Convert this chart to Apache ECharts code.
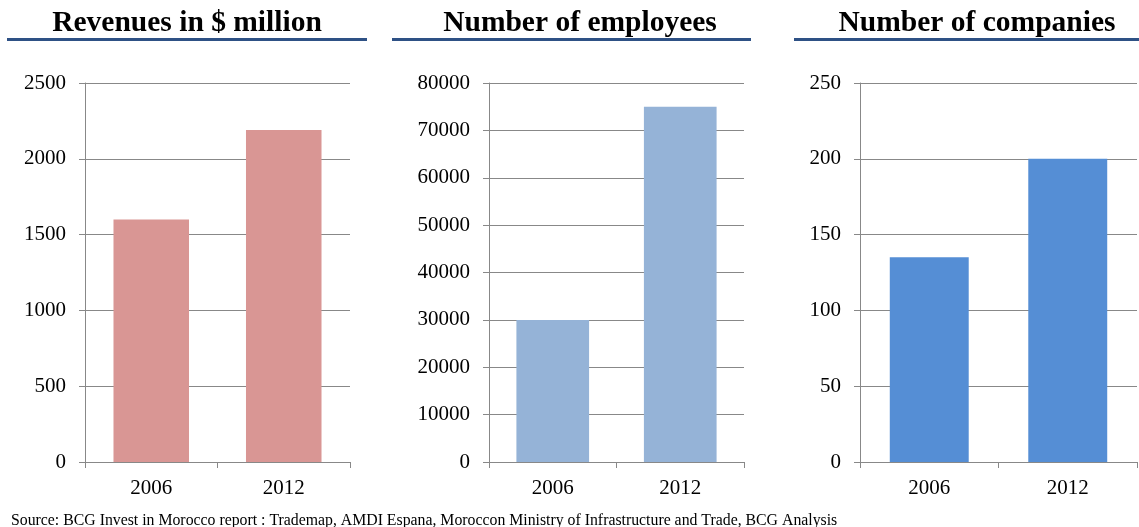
<!DOCTYPE html>
<html>
<head>
<meta charset="utf-8">
<script src="https://cdn.jsdelivr.net/npm/echarts@6/dist/echarts.min.js"></script>
<style>
  html, body { margin: 0; padding: 0; background: #fff; }
  #chart { width: 1139px; height: 527px; }
</style>
</head>
<body>
<div id="chart"></div>
<script>
const years = ['2006', '2012']
const revenues = [1600, 2190]
const employees = [30000, 75000]
const companies = [135, 200]
const panelTitles = ['Revenues in $ million', 'Number of employees', 'Number of companies']
const sourceText = 'Source: BCG Invest in Morocco report : Trademap, AMDI Espana, Moroccon Ministry of Infrastructure and Trade, BCG Analysis'

const serif = 'Liberation Serif'
const axisGray = '#888888'

// panel layout: grid left/width, underline start/end
const panels = [
  { left: 85, width: 265, lineX: 7, lineW: 360, cx: 182, max: 2500, interval: 500, data: revenues, color: '#D99694' },
  { left: 489, width: 255, lineX: 392, lineW: 359, cx: 575, max: 80000, interval: 10000, data: employees, color: '#95B3D7' },
  { left: 860, width: 277, lineX: 794, lineW: 345, cx: 972, max: 250, interval: 50, data: companies, color: '#558ED5' }
]

const chart = echarts.init(document.getElementById('chart'))

chart.setOption({
  animation: false,
  title: panels.map((p, i) => ({
    text: panelTitles[i],
    left: p.cx,
    top: 3,
    textAlign: 'center',
    textStyle: { fontFamily: serif, fontWeight: 'bold', fontSize: 29.5, color: '#000' }
  })).concat([{
    text: sourceText,
    left: 6,
    top: 508,
    textStyle: { fontFamily: serif, fontWeight: 'normal', fontSize: 15.8, color: '#000' }
  }]),
  graphic: panels.map(p => ({
    type: 'rect',
    shape: { x: p.lineX, y: 38, width: p.lineW, height: 3 },
    style: { fill: '#2E5185' }
  })),
  grid: panels.map(p => ({ left: p.left, width: p.width, top: 83, height: 379 })),
  xAxis: panels.map((p, i) => ({
    type: 'category',
    gridIndex: i,
    data: years,
    axisLine: { lineStyle: { color: axisGray, width: 1 } },
    axisTick: { show: true, length: 6, lineStyle: { color: axisGray } },
    axisLabel: { fontFamily: serif, fontSize: 21, color: '#000', margin: 16 }
  })),
  yAxis: panels.map((p, i) => ({
    type: 'value',
    gridIndex: i,
    min: 0,
    max: p.max,
    interval: p.interval,
    axisLine: { show: true, lineStyle: { color: axisGray, width: 1 } },
    axisTick: { show: true, length: 6, lineStyle: { color: axisGray } },
    splitLine: { lineStyle: { color: axisGray, width: 1 } },
    axisLabel: { fontFamily: serif, fontSize: 21, color: '#000', margin: 19, formatter: v => String(v) }
  })),
  series: panels.map((p, i) => ({
    type: 'bar',
    xAxisIndex: i,
    yAxisIndex: i,
    data: p.data,
    barWidth: '57%',
    itemStyle: { color: p.color }
  }))
})
</script>
</body>
</html>
